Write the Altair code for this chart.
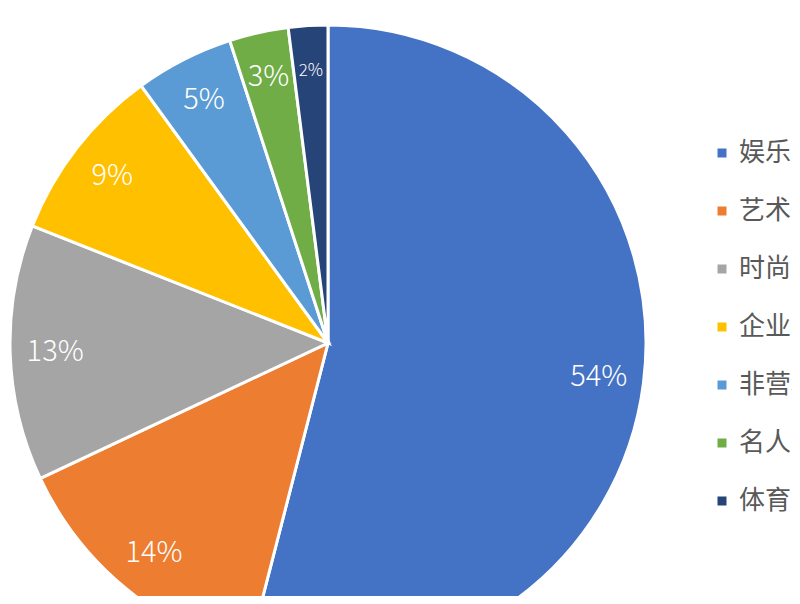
import altair as alt
import pandas as pd

categories = ["娱乐", "艺术", "时尚", "企业品牌", "非营利组织", "名人", "体育"]
values = [54, 14, 13, 9, 5, 3, 2]
colors = ["#4472C4", "#ED7D31", "#A5A5A5", "#FFC000", "#5B9BD5", "#70AD47", "#264478"]

df = pd.DataFrame({"category": categories, "value": values, "idx": list(range(len(values)))})

cx, cy, R = 320, 335, 318

base = alt.Chart(df).encode(
    theta=alt.Theta("value:Q", stack=True),
    order=alt.Order("idx:Q"),
)

arcs = base.mark_arc(x=cx, y=cy, outerRadius=R, stroke="white", strokeWidth=3).encode(
    color=alt.Color(
        "category:N",
        scale=alt.Scale(domain=categories, range=colors),
        sort=categories,
        legend=alt.Legend(
            title=None,
            orient="none",
            legendX=701,
            legendY=132,
            symbolType="square",
            symbolSize=81,
            symbolStrokeWidth=0,
            labelFontSize=26,
            labelFont="Noto Sans CJK SC",
            labelColor="#595959",
            labelOffset=4,
            rowPadding=32,
            labelLimit=300,
        ),
    )
)

labels = base.transform_calculate(label="datum.value + '%'").mark_text(
    x=cx, y=cy, radius=273, color="white", font="Noto Sans CJK SC", fontWeight=300
).encode(
    text="label:N",
    size=alt.condition(alt.datum.value < 3, alt.value(17), alt.value(29)),
)

chart = (arcs + labels).properties(
    width=784, height=588, padding=0, autosize=alt.AutoSizeParams(type="none")
).configure_view(stroke=None).configure(background="white")

chart.save("out.html", embed_options={"renderer": "svg", "actions": False})
